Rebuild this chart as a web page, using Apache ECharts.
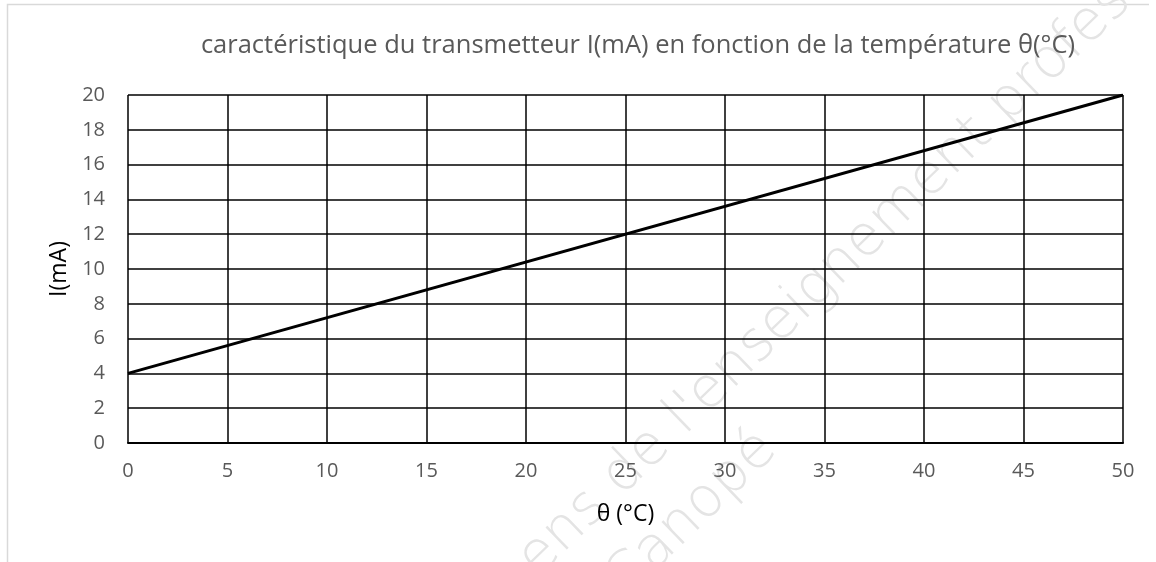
<!DOCTYPE html>
<html>
<head>
<meta charset="utf-8">
<script src="https://cdn.jsdelivr.net/npm/echarts@6/dist/echarts.min.js"></script>
<style>
html,body{margin:0;padding:0;background:#fff;}
#chart{width:1156px;height:562px;}
</style>
</head>
<body>
<div id="chart"></div>
<script>
const titleText = "caractéristique du transmetteur I(mA) en fonction de la température θ(°C)";
const xName = "θ (°C)";
const yName = "I(mA)";
const theta = [0, 50];
const current = [4, 20];
const watermark1 = "ens de l'enseignement profes";
const watermark2 = "Canopé";

const chart = echarts.init(document.getElementById('chart'), null, {renderer: 'canvas'});
const font = "'Open Sans', 'Liberation Sans', sans-serif";
chart.setOption({
  animation: false,
  backgroundColor: '#fff',
  title: {
    text: titleText,
    left: 633, top: 28, textAlign: 'center',
    textStyle: {fontFamily: font, fontSize: 25.5, fontWeight: 'normal', color: '#595959'}
  },
  grid: {left: 128, right: 33, top: 95, bottom: 119, containLabel: false},
  xAxis: {
    type: 'value', min: 0, max: 50, interval: 5,
    name: xName, nameLocation: 'middle', nameGap: 60,
    nameTextStyle: {fontFamily: font, fontSize: 23, color: '#000'},
    axisLine: {show: true, lineStyle: {color: '#000', width: 2}},
    axisTick: {show: false},
    axisLabel: {margin: 18, fontFamily: font, fontSize: 20, color: '#595959'},
    splitLine: {show: true, lineStyle: {color: '#000', width: 1.5}}
  },
  yAxis: {
    type: 'value', min: 0, max: 20, interval: 2,
    name: yName, nameLocation: 'middle', nameGap: 56,
    nameTextStyle: {fontFamily: font, fontSize: 23, color: '#000'},
    axisLine: {show: false},
    axisTick: {show: false},
    axisLabel: {margin: 23, fontFamily: font, fontSize: 20, color: '#595959'},
    splitLine: {show: true, lineStyle: {color: '#000', width: 1.5}}
  },
  graphic: [
    {type: 'polyline', z: -10, silent: true,
     shape: {points: [[7.5, 600], [7.5, 4.5], [1149, 4.5]]},
     style: {fill: 'none', stroke: '#d9d9d9', lineWidth: 1.5}},
    {type: 'text', z: -5, silent: true, x: 825, y: 280, rotation: 44 * Math.PI / 180,
     style: {text: watermark1, fontFamily: "'DejaVu Sans', sans-serif", fontWeight: 200, fontSize: 56,
             fill: '#e4e4e4', textAlign: 'center', textVerticalAlign: 'middle'}},
    {type: 'text', z: -5, silent: true, x: 692, y: 515, rotation: 44 * Math.PI / 180,
     style: {text: watermark2, fontFamily: "'DejaVu Sans', sans-serif", fontWeight: 200, fontSize: 56,
             fill: '#e4e4e4', textAlign: 'center', textVerticalAlign: 'middle'}}
  ],
  series: [{
    type: 'line',
    data: theta.map((t, i) => [t, current[i]]),
    showSymbol: false,
    lineStyle: {color: '#000', width: 3},
    z: 5
  }]
});
</script>
</body>
</html>
